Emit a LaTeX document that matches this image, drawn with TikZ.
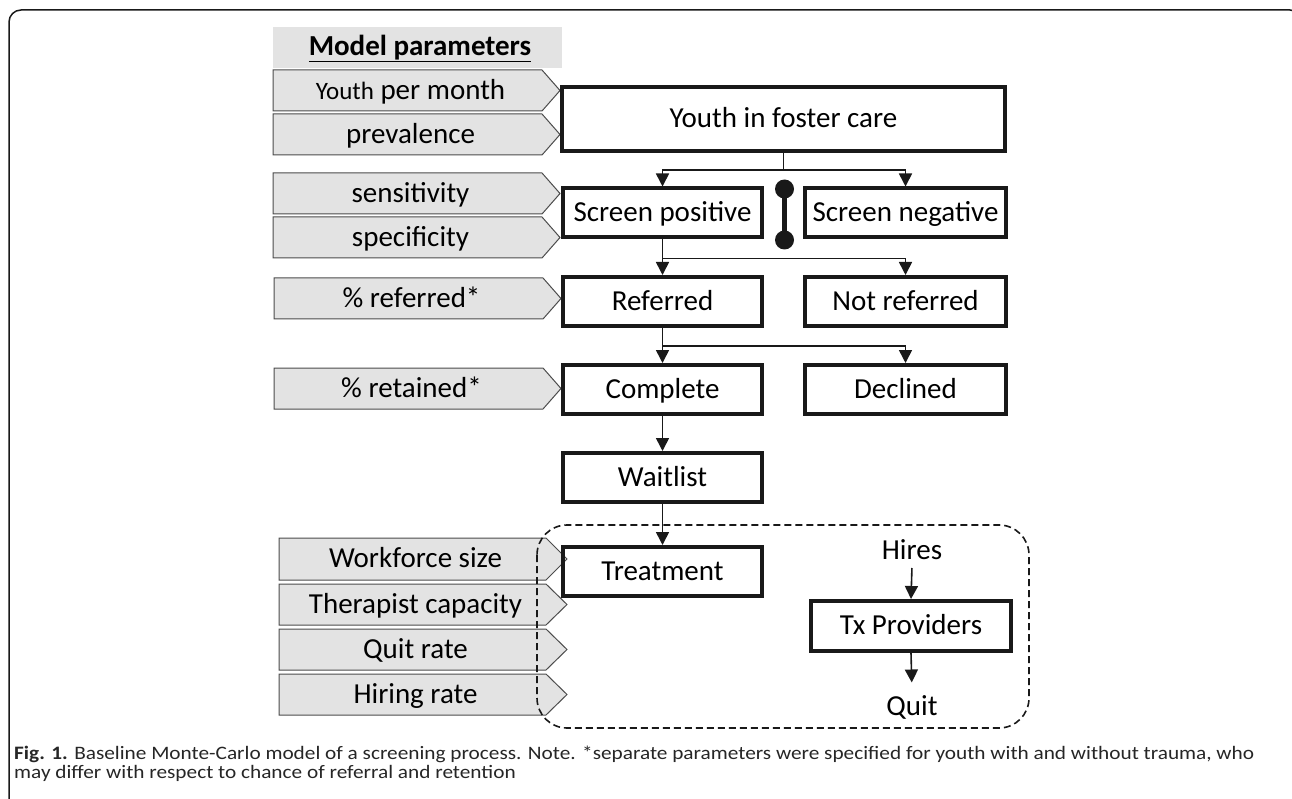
\documentclass[tikz,border=0pt]{standalone}
\usepackage{fontspec}
\setmainfont{Carlito}
\newfontfamily\capfont[FakeStretch=1.12]{Carlito}
\usetikzlibrary{arrows.meta,calc}
\begin{document}
\begin{tikzpicture}[x=1pt,y=-1pt,
  box/.style={draw=black!90, line width=4pt, inner sep=0pt, minimum height=49pt,
              font=\fontsize{29}{32}\selectfont, text height=24pt, text depth=6.6pt},
  arr/.style={line width=1.6pt, draw=black!90, -{Triangle[length=13pt,width=13pt]}},
  conn/.style={line width=1.6pt, draw=black!90},
  param/.style={draw=black!70, fill=black!11, line width=1pt},
  ptext/.style={font=\fontsize{29}{32}\selectfont, inner sep=0pt, text height=24pt, text depth=6.6pt},
  plain/.style={font=\fontsize{29}{32}\selectfont, inner sep=0pt, text height=24pt, text depth=6.6pt},
  captxt/.style={anchor=base west, inner sep=0pt, font=\capfont\fontsize{19}{22}\selectfont, text=black!85},
]
\useasboundingbox (0,0) rectangle (1292,799);
\clip (0,0) rectangle (1292,799);
% outer frame
\draw[line width=1.5pt, draw=black!90, rounded corners=12pt] (9,810) -- (9,10) -- (1302,10) -- (1302,810);

% title
\fill[black!11] (273,27) rectangle (562,68);
\node[plain, font=\fontsize{29}{32}\selectfont\bfseries] (title) at (420,47) {\underline{Model parameters}};

% parameter arrows: left, top, bottom, body right, tip, name, text
\foreach \l/\t/\b/\r/\p/\nm/\txt in {
  273/70/111/542/560/pa/{{\fontsize{25}{28}\selectfont Youth} per month},
  273/114/155/542/560/pb/prevalence,
  273/173/214/542/560/pc/sensitivity,
  273/217/258/542/560/pd/specificity,
  274/278/319/543/561/pe/{\% referred*},
  274/368/409/543/561/pf/{\% retained*},
  279/538/580/546/567/pg/Workforce size,
  279/584/625/546/567/ph/Therapist capacity,
  279/629/670/546/567/pi/Quit rate,
  279/674/715/546/567/pj/Hiring rate}{
  \draw[param] (\l,\t) -- (\r,\t) -- (\p,{(\t+\b)/2}) -- (\r,\b) -- (\l,\b) -- cycle;
  \node[ptext] (\nm) at ({(\l+\r)/2+3},{(\t+\b)/2}) {\txt};
}

% main boxes
\node[box, minimum width=443pt, minimum height=64pt] (youth) at (783.5,119) {Youth in foster care};
\node[box, minimum width=199pt] (spos) at (662.5,213) {Screen positive};
\node[box, minimum width=201pt] (sneg) at (905.5,213) {Screen negative};
\node[box, minimum width=199pt] (ref) at (662.5,301.5) {Referred};
\node[box, minimum width=201pt] (nref) at (905.5,301.5) {Not referred};
\node[box, minimum width=199pt] (comp) at (662.5,389.5) {Complete};
\node[box, minimum width=201pt] (decl) at (905.5,389.5) {Declined};
\node[box, minimum width=199pt] (wait) at (662.5,477.5) {Waitlist};
\node[box, minimum width=199pt] (treat) at (662.5,571.5) {Treatment};
\node[box, minimum width=200pt, minimum height=50pt] (tx) at (911,626) {Tx Providers};
\node[plain] (hires) at (912,550.5) {Hires};
\node[plain] (quit) at (912,707) {Quit};

% dumbbell
\coordinate (db1) at (784.5,189);
\coordinate (db2) at (784.5,240);
\draw[line width=5pt, draw=black!90] (db1) -- (db2);
\fill[black!90] (db1) circle (9.5pt) (db2) circle (9.5pt);

% connectors
\coordinate (j1) at ($(youth.south)+(0,17)$);
\draw[conn] (youth.south) -- (j1);
\draw[arr] (j1) -| (spos.north);
\draw[arr] (j1) -| (sneg.north);
\coordinate (j2) at ($(spos.south)+(0,19)$);
\draw[conn] (spos.south) -- (j2);
\draw[arr] (j2) -| (nref.north);
\draw[arr] (j2) -- (ref.north);
\coordinate (j3) at ($(ref.south)+(0,18)$);
\draw[conn] (ref.south) -- (j3);
\draw[arr] (j3) -| (decl.north);
\draw[arr] (j3) -- (comp.north);
\draw[arr] (comp.south) -- (wait.north);
\draw[arr] (wait.south) -- (treat.north);
\draw[arr, shorten <=2pt] (hires.south) -- (tx.north);
\draw[arr, shorten >=9pt] (tx.south) -- (quit.north);

% dashed group
\draw[line width=1.6pt, draw=black!90, dash pattern=on 7pt off 4pt, rounded corners=30pt]
  (537,525) rectangle (1029,728);

% caption
\node[captxt] (cap1) at (14,759)
  {\textbf{Fig. 1.} Baseline Monte-Carlo model of a screening process. Note. *separate parameters were specified for youth with and without trauma, who};
\node[captxt] (cap2) at (14,778)
  {may differ with respect to chance of referral and retention};
\end{tikzpicture}
\end{document}
